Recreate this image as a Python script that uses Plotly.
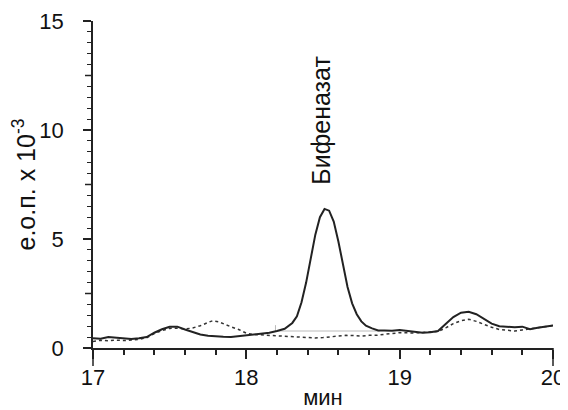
import plotly.graph_objects as go

# Solid trace (sample)
t_sample = [17.00, 17.05, 17.10, 17.15, 17.20, 17.25, 17.30, 17.35, 17.40, 17.45,
            17.50, 17.55, 17.60, 17.65, 17.70, 17.75, 17.80, 17.85, 17.90, 17.95,
            18.00, 18.05, 18.10, 18.15, 18.20, 18.25, 18.30, 18.33, 18.36, 18.39,
            18.42, 18.45, 18.48, 18.51, 18.54, 18.57, 18.60, 18.63, 18.66, 18.69,
            18.72, 18.75, 18.78, 18.82, 18.86, 18.90, 18.95, 19.00, 19.05, 19.10,
            19.15, 19.20, 19.25, 19.30, 19.35, 19.40, 19.45, 19.50, 19.55, 19.60,
            19.65, 19.70, 19.75, 19.80, 19.85, 19.90, 19.95, 20.00]
y_sample = [0.45, 0.42, 0.50, 0.46, 0.45, 0.41, 0.45, 0.50, 0.70, 0.86,
            0.97, 0.98, 0.85, 0.72, 0.62, 0.56, 0.53, 0.52, 0.51, 0.55,
            0.60, 0.62, 0.66, 0.70, 0.78, 0.88, 1.15, 1.45, 2.10, 3.00,
            4.10, 5.20, 6.00, 6.38, 6.30, 5.80, 4.90, 3.80, 2.80, 2.05,
            1.55, 1.22, 1.02, 0.90, 0.80, 0.80, 0.79, 0.82, 0.78, 0.72,
            0.70, 0.72, 0.78, 1.10, 1.42, 1.62, 1.66, 1.55, 1.35, 1.12,
            1.00, 0.96, 0.95, 0.98, 0.86, 0.93, 0.98, 1.03]

# Dotted trace (blank)
t_blank = [17.00, 17.05, 17.10, 17.15, 17.20, 17.25, 17.30, 17.35, 17.40, 17.45,
           17.50, 17.55, 17.60, 17.65, 17.70, 17.75, 17.78, 17.82, 17.86, 17.90,
           17.95, 18.00, 18.05, 18.10, 18.15, 18.20, 18.25, 18.30, 18.40, 18.45,
           18.50, 18.55, 18.60, 18.65, 18.70, 18.75, 18.80, 18.85, 18.90, 18.95,
           19.00, 19.10, 19.20, 19.25, 19.30, 19.35, 19.40, 19.45, 19.50, 19.55,
           19.60, 19.65, 19.70, 19.75, 19.80, 19.85, 19.90, 19.95, 20.00]
y_blank = [0.30, 0.35, 0.33, 0.36, 0.34, 0.37, 0.40, 0.47, 0.66, 0.80,
           0.90, 0.91, 0.87, 0.92, 1.02, 1.17, 1.25, 1.20, 1.08, 0.97,
           0.85, 0.68, 0.62, 0.60, 0.58, 0.56, 0.53, 0.52, 0.48, 0.46,
           0.48, 0.52, 0.56, 0.58, 0.57, 0.55, 0.58, 0.58, 0.63, 0.66,
           0.70, 0.69, 0.72, 0.76, 0.92, 1.12, 1.25, 1.32, 1.22, 1.08,
           0.95, 0.85, 0.80, 0.78, 0.83, 0.88, 0.94, 0.98, 1.03]

# Integration baseline
t_base = [18.19, 18.19, 18.87]
y_base = [1.05, 0.78, 0.78]

y_tickvals = [0, 5, 10, 15]
y_ticktext = ["0", "5", "10", "15"]
y_midticks = [2.5, 7.5, 12.5]
x_tickvals = [17, 18, 19, 20]
x_ticktext = ["17", "18", "19", "20"]

peak_label = "Бифеназат"
peak_x = 18.49
peak_y = 10.45

FONT = "Liberation Sans, Arial, sans-serif"
AX = "#222222"
PLOT_H = 327

fig = go.Figure()
fig.add_trace(go.Scatter(x=t_base, y=y_base, mode="lines",
                         line=dict(color="#bbbbbb", width=1), hoverinfo="skip"))
fig.add_trace(go.Scatter(x=t_blank, y=y_blank, mode="lines",
                         line=dict(color="#333333", width=1.5, dash="dot")))
fig.add_trace(go.Scatter(x=t_sample, y=y_sample, mode="lines",
                         line=dict(color="#222222", width=2)))

fig.add_annotation(x=peak_x, y=peak_y, text=peak_label, textangle=-90,
                   showarrow=False, font=dict(family=FONT, size=25, color="#111111"))

# longer unlabeled ticks at half-steps on the y axis
for v in y_midticks:
    fig.add_shape(type="line", xref="x domain", yref="y",
                  x0=-8 / 460, x1=0, y0=v, y1=v,
                  line=dict(color=AX, width=1.5))
# extended end ticks of the x axis
for d in (0, 1):
    fig.add_shape(type="line", xref="x domain", yref="y domain",
                  x0=d, x1=d, y0=0, y1=-18 / PLOT_H,
                  line=dict(color=AX, width=1.5))

# page body adds an 8px offset, so the figure is 8px smaller than the window
fig.update_layout(
    width=560, height=402,
    margin=dict(l=85, r=15, t=13, b=62),
    paper_bgcolor="white", plot_bgcolor="white",
    showlegend=False,
    font=dict(family=FONT, size=22, color="#111111"),
)
fig.update_xaxes(
    range=[17, 20], showgrid=False, zeroline=False, automargin=False,
    showline=True, linecolor=AX, linewidth=1.5,
    ticks="outside", ticklen=9, tickwidth=1.5, tickcolor=AX,
    tickvals=x_tickvals, ticktext=x_ticktext,
    minor=dict(ticks="outside", ticklen=5, tickwidth=1.5, tickcolor=AX, dtick=0.2),
    tickfont=dict(size=22),
    title=dict(text="мин", standoff=0, font=dict(size=22)),
)
fig.update_yaxes(
    range=[0, 15], showgrid=False, zeroline=False, automargin=False,
    showline=True, linecolor=AX, linewidth=1.5,
    ticks="outside", ticklen=8, tickwidth=1.5, tickcolor=AX,
    tickvals=y_tickvals, ticktext=y_ticktext,
    minor=dict(ticks="outside", ticklen=4, tickwidth=1.2, tickcolor=AX, dtick=0.5),
    tickfont=dict(size=22),
    ticklabelstandoff=15,
    title=dict(text="е.о.п. x 10<sup>-3</sup>", standoff=8, font=dict(size=25)),
)

fig.write_html("out.html")
